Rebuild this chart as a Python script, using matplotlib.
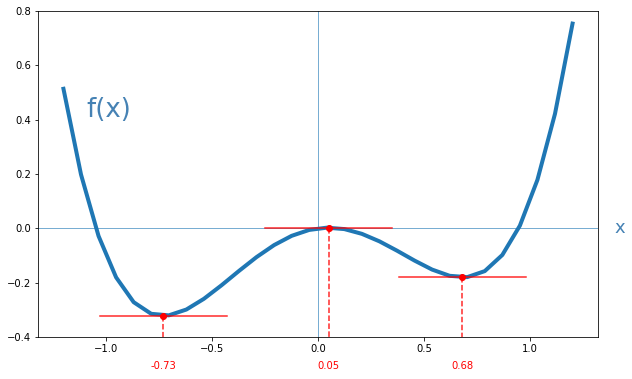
import matplotlib
matplotlib.use("Agg")
import matplotlib.pyplot as plt

x_vals = [-1.2, -1.117241, -1.034483, -0.951724, -0.868966, -0.786207, -0.703448,
          -0.620690, -0.537931, -0.455172, -0.372414, -0.289655, -0.206897, -0.124138,
          -0.041379, 0.041379, 0.124138, 0.206897, 0.289655, 0.372414, 0.455172,
          0.537931, 0.620690, 0.703448, 0.786207, 0.868966, 0.951724, 1.034483,
          1.117241, 1.2]
y_vals = [0.5136, 0.198121, -0.028371, -0.180515, -0.27182, -0.314669, -0.320318,
          -0.298903, -0.259428, -0.209775, -0.156698, -0.105827, -0.061664, -0.027587,
          -0.005847, 0.002429, -0.002759, -0.020284, -0.047895, -0.082216, -0.118741,
          -0.151842, -0.174765, -0.179628, -0.157427, -0.098026, 0.009829, 0.178525,
          0.421569, 0.7536]

crit_x = [-0.73, 0.05, 0.68]
crit_y = [-0.322, 0.0, -0.180]
crit_labels = ["-0.73", "0.05", "0.68"]

fig = plt.figure(figsize=(632 / 72, 379 / 72), dpi=72)
ax = fig.add_axes([38 / 632, 42 / 379, 560 / 632, 326 / 379])

ax.axhline(0, color="#1f77b4", alpha=0.6, lw=1)
ax.axvline(0, color="#1f77b4", alpha=0.6, lw=1)

ax.plot(x_vals, y_vals, color="#1f77b4", lw=4)

for cx, cy, lab in zip(crit_x, crit_y, crit_labels):
    ax.plot([cx - 0.3, cx + 0.3], [cy, cy], color="red", lw=1.5, alpha=0.85)
    ax.plot([cx, cx], [cy, -0.4], color="red", lw=1.5, ls="--", alpha=0.85)
    ax.plot(cx, cy, "o", color="red", ms=6)
    ax.text(cx, -0.507, lab, color="red", ha="center", va="center", fontsize=10)

ax.text(-1.09, 0.435, "f(x)", color="#4682B4", fontsize=26, ha="left", va="center")
ax.text(1.40, 0.0, "x", color="#4682B4", fontsize=18, ha="left", va="center")

ax.set_ylim(-0.4, 0.8)
ax.set_xlim(-1.32, 1.32)

fig.savefig("out.png", dpi=72)
